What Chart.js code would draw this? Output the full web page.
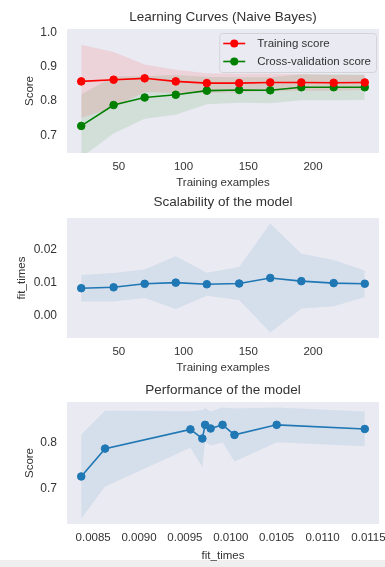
<!DOCTYPE html>
<html>
<head>
<meta charset="utf-8">
<script src="https://cdn.jsdelivr.net/npm/chart.js@4.4.0/dist/chart.umd.min.js"></script>
<style>
  body { margin: 0; background: #fff; width: 385px; height: 567px; overflow: hidden; position: relative; }
  .panel { position: absolute; left: 0; width: 385px; }
  #strip { position: absolute; left: 0; top: 560px; width: 385px; height: 7px; background: #efefef; }
</style>
</head>
<body>
<div id="strip"></div>
<div class="panel" style="top:0;height:190px"><canvas id="learning"></canvas></div>
<div class="panel" style="top:190px;height:185px"><canvas id="scalability"></canvas></div>
<div class="panel" style="top:375px;height:192px"><canvas id="performance"></canvas></div>
<script>
// --- data ---
const trainSizes = [21, 46, 70, 94, 118, 143, 167, 191, 216, 240];
const trainMean = [0.857, 0.862, 0.866, 0.857, 0.852, 0.852, 0.854, 0.854, 0.853, 0.854];
const trainStd = [0.107, 0.081, 0.040, 0.034, 0.029, 0.027, 0.025, 0.024, 0.023, 0.022];
const testMean = [0.727, 0.788, 0.810, 0.818, 0.830, 0.832, 0.831, 0.840, 0.840, 0.840];
const testStd = [0.092, 0.083, 0.062, 0.058, 0.040, 0.037, 0.038, 0.038, 0.038, 0.037];
const fitMean = [0.00837, 0.00863, 0.00969, 0.01004, 0.00956, 0.00978, 0.01146, 0.01050, 0.00991, 0.00972];
const fitStd = [0.0040, 0.0043, 0.0043, 0.0080, 0.0035, 0.0050, 0.0165, 0.0083, 0.0070, 0.0040];

// tick labels
const exampleTicks = [50, 100, 150, 200];
const scoreTicks = [0.7, 0.8, 0.9, 1.0];
const fitTicks = [0.00, 0.01, 0.02];
const fitTimeTicks = [0.0085, 0.0090, 0.0095, 0.0100, 0.0105, 0.0110, 0.0115];
const perfScoreTicks = [0.7, 0.8];

const TXT = "#333333";
const FONT = "'Liberation Sans', Arial, sans-serif";
Chart.defaults.font.family = FONT;
Chart.defaults.color = TXT;

const pts = (xs, ys) => xs.map((x, i) => ({ x: x, y: ys[i] }));
const shift = (ys, sd, k) => ys.map((v, i) => v + k * sd[i]);

// axes background like seaborn darkgrid (grid switched off)
const plotBg = {
  id: "plotBg",
  beforeDraw(chart) {
    const { ctx, chartArea: a } = chart;
    ctx.save();
    ctx.fillStyle = "#eaeaf2";
    ctx.fillRect(a.left, a.top, a.width, a.height);
    ctx.restore();
  },
};

// legend drawn inside the plot, upper right
const innerLegend = {
  id: "innerLegend",
  afterDatasetsDraw(chart) {
    const items = chart.data.datasets.filter((d) => d.inLegend);
    if (!items.length) return;
    const { ctx, chartArea: a } = chart;
    ctx.save();
    ctx.font = "11.5px " + FONT;
    const textW = Math.max(...items.map((d) => ctx.measureText(d.label).width));
    const w = textW + 43, h = 39;
    const left = a.right - 3 - w, top = a.top + 4;
    ctx.beginPath();
    ctx.roundRect(left + 0.5, top + 0.5, w, h, 3);
    ctx.fillStyle = "rgba(234,234,242,0.8)";
    ctx.fill();
    ctx.strokeStyle = "#d4d4d8";
    ctx.lineWidth = 1;
    ctx.stroke();
    items.forEach((d, i) => {
      const y = top + 10.5 + i * 18;
      ctx.strokeStyle = d.borderColor;
      ctx.lineWidth = 1.6;
      ctx.beginPath();
      ctx.moveTo(left + 4, y);
      ctx.lineTo(left + 26, y);
      ctx.stroke();
      ctx.fillStyle = d.borderColor;
      ctx.beginPath();
      ctx.arc(left + 15, y, 4, 0, Math.PI * 2);
      ctx.fill();
      ctx.fillStyle = TXT;
      ctx.textBaseline = "middle";
      ctx.fillText(d.label, left + 38, y);
    });
    ctx.restore();
  },
};

function lineSet(label, data, color, inLegend) {
  return {
    label: label, data: data, inLegend: inLegend,
    borderColor: color, backgroundColor: color,
    borderWidth: 1.6, tension: 0, fill: false,
    pointRadius: 3.8, pointBorderWidth: 1,
    pointBackgroundColor: color, pointBorderColor: color,
  };
}

function bandSets(xs, ys, sd, fillColor) {
  const edge = {
    borderColor: "rgba(0,0,0,0)", borderWidth: 0, pointRadius: 0, tension: 0,
  };
  return [
    Object.assign({ label: "lo", data: pts(xs, shift(ys, sd, -1)), fill: false }, edge),
    Object.assign({ label: "hi", data: pts(xs, shift(ys, sd, 1)), fill: "-1", backgroundColor: fillColor }, edge),
  ];
}

function xScale(min, max, ticks, fmt, title, height, titlePadBottom) {
  return {
    type: "linear", min: min, max: max,
    grid: { display: false, drawTicks: false },
    border: { display: false },
    ticks: { color: TXT, font: { size: 11.5 }, padding: 7, autoSkip: false, maxRotation: 0, callback: (v) => fmt(v) },
    title: { display: true, text: title, color: TXT, font: { size: 11.5 }, padding: { top: 0, bottom: titlePadBottom } },
    afterBuildTicks: (s) => { s.ticks = ticks.map((v) => ({ value: v })); },
    afterFit: (s) => { s.height = height; s.paddingLeft = 0; s.paddingRight = 0; },
  };
}

function yScale(min, max, ticks, fmt, title, titleX) {
  return {
    type: "linear", min: min, max: max,
    grid: { display: false, drawTicks: false },
    border: { display: false },
    ticks: { color: TXT, font: { size: 12 }, padding: 10, callback: (v) => fmt(v) },
    title: { display: true, text: title, color: TXT, font: { size: 11.5 }, padding: { top: titleX - 6.9, bottom: 0 } },
    afterBuildTicks: (s) => { s.ticks = ticks.map((v) => ({ value: v })); },
    afterFit: (s) => { s.width = 67; s.paddingTop = 0; s.paddingBottom = 0; },
  };
}

function baseOptions(titleText, padTop, padBottom, x, y) {
  return {
    responsive: true,
    maintainAspectRatio: false,
    animation: false,
    events: [],
    layout: { padding: { left: 0, right: 6, top: 0, bottom: 0 } },
    plugins: {
      legend: { display: false },
      tooltip: { enabled: false },
      title: {
        display: true, text: titleText, color: TXT, fullSize: false,
        font: { size: 13.5, weight: "normal" },
        padding: { top: padTop, bottom: padBottom },
      },
    },
    scales: { x: x, y: y },
  };
}

// --- 1. learning curves ---
new Chart(document.getElementById("learning"), {
  type: "line",
  data: {
    datasets: [
      lineSet("Training score", pts(trainSizes, trainMean), "#ff0000", true),
      lineSet("Cross-validation score", pts(trainSizes, testMean), "#008000", true),
      ...bandSets(trainSizes, trainMean, trainStd, "rgba(255,0,0,0.1)"),
      ...bandSets(trainSizes, testMean, testStd, "rgba(0,128,0,0.1)"),
    ],
  },
  options: baseOptions(
    "Learning Curves (Naive Bayes)", 8.7, 4.1,
    xScale(10, 251, exampleTicks, (v) => String(v), "Training examples", 37, 0),
    yScale(0.648, 1.01, scoreTicks, (v) => v.toFixed(1), "Score", 30)
  ),
  plugins: [plotBg, innerLegend],
});

// --- 2. scalability ---
new Chart(document.getElementById("scalability"), {
  type: "line",
  data: {
    datasets: [
      lineSet("fit_times", pts(trainSizes, fitMean), "#1f77b4", false),
      ...bandSets(trainSizes, fitMean, fitStd, "rgba(31,119,180,0.1)"),
    ],
  },
  options: baseOptions(
    "Scalability of the model", 4.6, 7.2,
    xScale(10, 251, exampleTicks, (v) => String(v), "Training examples", 37, 0),
    yScale(-0.0067, 0.0296, fitTicks, (v) => v.toFixed(2), "fit_times", 21.7)
  ),
  plugins: [plotBg],
});

// --- 3. performance: score against fit time, sorted by fit time ---
const order = fitMean.map((v, i) => i).sort((a, b) => fitMean[a] - fitMean[b]);
const fitSorted = order.map((i) => fitMean[i]);
const scoreSorted = order.map((i) => testMean[i]);
const stdSorted = order.map((i) => testStd[i]);

new Chart(document.getElementById("performance"), {
  type: "line",
  data: {
    datasets: [
      lineSet("Score", pts(fitSorted, scoreSorted), "#1f77b4", false),
      ...bandSets(fitSorted, scoreSorted, stdSorted, "rgba(31,119,180,0.1)"),
    ],
  },
  options: baseOptions(
    "Performance of the model", 6.9, 3.9,
    xScale(0.008215, 0.011615, fitTimeTicks, (v) => v.toFixed(4), "fit_times", 43, 4.1),
    yScale(0.623, 0.890, perfScoreTicks, (v) => v.toFixed(1), "Score", 30)
  ),
  plugins: [plotBg],
});
</script>
</body>
</html>
